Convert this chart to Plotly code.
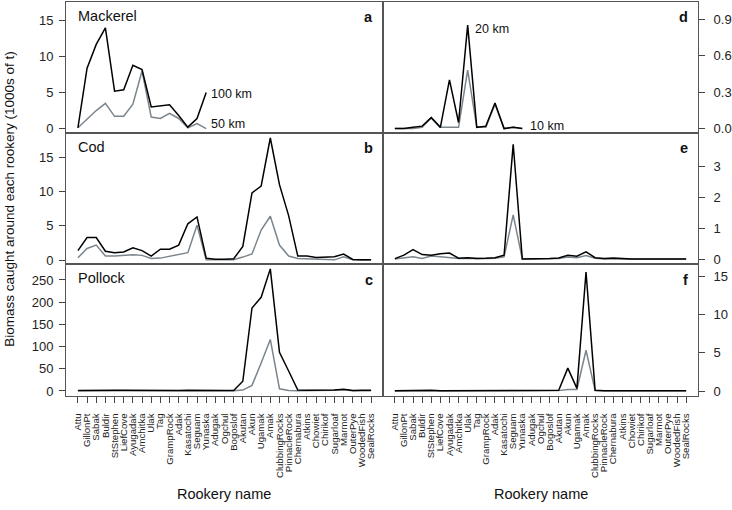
import plotly.graph_objects as go

rookeries = ["Attu", "GillonPt", "Sabak", "Buldir", "StStephen", "LiefCove", "Ayugadak",
             "Amchitka", "Ulak", "Tag", "GrampRock", "Adak", "Kasatochi", "Seguam", "Yunaska",
             "Adugak", "Ogchul", "Bogoslof", "Akutan", "Akun", "Ugamak", "Amak",
             "ClubbingRocks", "PinnacleRock", "Chernabura", "Atkins", "Chowiet", "Chirikof",
             "Sugarloaf", "Marmot", "OuterPye", "WoodedFish", "SealRocks"]
mackerel_rookeries = rookeries[:15]

# Panel a: Mackerel, 100 km and 50 km
mackerel_100 = [0.1, 8.4, 11.7, 14.0, 5.2, 5.4, 8.8, 8.2, 3.0, 3.1, 3.3, 1.8, 0.2, 1.4, 5.0]
mackerel_50 = [0.1, 1.3, 2.5, 3.5, 1.7, 1.7, 3.4, 8.0, 1.6, 1.4, 2.1, 1.4, 0.1, 0.7, 0.0]
# Panel d: Mackerel, 20 km and 10 km
mackerel_20 = [0.0, 0.0, 0.01, 0.02, 0.09, 0.01, 0.40, 0.05, 0.85, 0.01, 0.02, 0.21, 0.0, 0.01, 0.0]
mackerel_10 = [0.0, 0.0, 0.0, 0.01, 0.09, 0.01, 0.01, 0.01, 0.48, 0.01, 0.01, 0.20, 0.0, 0.01, 0.0]

# Panel b: Cod, 100 km and 50 km
cod_100 = [1.4, 3.3, 3.3, 1.3, 1.1, 1.2, 1.8, 1.4, 0.6, 1.6, 1.6, 2.2, 5.3, 6.3, 0.3,
           0.15, 0.15, 0.2, 2.0, 9.8, 10.8, 17.8, 11.0, 6.5, 0.6, 0.6, 0.4, 0.4, 0.5,
           0.9, 0.1, 0.05, 0.05]
cod_50 = [0.35, 1.7, 2.2, 0.6, 0.6, 0.65, 0.8, 0.7, 0.25, 0.3, 0.55, 0.75, 1.1, 5.1, 0.05,
          0.05, 0.05, 0.05, 0.45, 0.9, 4.4, 6.4, 2.2, 0.6, 0.25, 0.2, 0.15, 0.15, 0.05,
          0.5, 0.05, 0.02, 0.02]
# Panel e: Cod, 20 km and 10 km
cod_20 = [0.02, 0.13, 0.31, 0.15, 0.13, 0.18, 0.20, 0.03, 0.05, 0.02, 0.03, 0.05, 0.13,
          3.73, 0.01, 0.01, 0.01, 0.02, 0.04, 0.13, 0.10, 0.24, 0.05, 0.02, 0.04, 0.02,
          0.01, 0.01, 0.01, 0.01, 0.01, 0.01, 0.01]
cod_10 = [0.01, 0.05, 0.08, 0.02, 0.10, 0.08, 0.06, 0.02, 0.03, 0.02, 0.02, 0.03, 0.08,
          1.44, 0.01, 0.01, 0.01, 0.01, 0.02, 0.07, 0.05, 0.12, 0.03, 0.01, 0.01, 0.01,
          0.01, 0.01, 0.01, 0.01, 0.01, 0.01, 0.01]

# Panel c: Pollock, 100 km and 50 km
pollock_100 = [1.0, 1.5, 1.5, 1.5, 1.5, 1.5, 1.2, 1.5, 1.5, 1.0, 1.0, 1.0, 1.5, 1.0, 1.0,
               1.0, 1.0, 1.0, 22, 187, 211, 275, 87, 45, 2.0, 1.5, 1.5, 2.0, 2.5,
               3.7, 1.0, 1.5, 1.5]
pollock_50 = [0.3, 0.5, 0.5, 0.5, 0.5, 0.5, 0.5, 0.5, 0.5, 0.3, 0.3, 0.3, 1.0, 0.3, 0.3,
              0.3, 0.3, 0.3, 2.0, 12.7, 63, 116, 5.0, 1.0, 0.5, 0.5, 0.5, 1.0, 1.5,
              3.0, 0.3, 0.5, 0.5]
# Panel f: Pollock, 20 km and 10 km
pollock_20 = [0.02, 0.05, 0.05, 0.05, 0.1, 0.05, 0.05, 0.05, 0.05, 0.1, 0.05, 0.05, 0.1,
              0.05, 0.05, 0.05, 0.05, 0.05, 0.1, 3.0, 0.35, 15.6, 0.1, 0.05, 0.05, 0.05,
              0.05, 0.05, 0.05, 0.1, 0.05, 0.1, 0.05]
pollock_10 = [0.01, 0.02, 0.02, 0.02, 0.05, 0.02, 0.02, 0.02, 0.02, 0.05, 0.02, 0.02, 0.05,
              0.02, 0.02, 0.02, 0.02, 0.02, 0.05, 0.2, 0.2, 5.35, 0.05, 0.02, 0.02, 0.02,
              0.02, 0.02, 0.02, 0.05, 0.02, 0.05, 0.02]

species = ["Mackerel", "Cod", "Pollock"]
letters_left = ["a", "b", "c"]
letters_right = ["d", "e", "f"]

BLACK = "#000000"
GREY = "#7b858d"
FRAME = "#555555"
FONT = "Liberation Sans, Arial, sans-serif"

W, H = 732, 510
xl = [66 / W, 383 / W]
xr = [383 / W, 698 / W]
row_px = [(2, 134), (134, 266), (266, 398)]
ydom = [[1 - b / H, 1 - t / H] for t, b in row_px]

left_ranges = [[-0.65, 17.6], [-0.62, 18.5], [-10.5, 285]]
right_ranges = [[-0.038, 1.04], [-0.17, 4.09], [-0.61, 16.6]]
left_ticks = [[0, 5, 10, 15], [0, 5, 10, 15], [0, 50, 100, 150, 200, 250]]
right_ticks = [[0.0, 0.3, 0.6, 0.9], [0, 1, 2, 3], [0, 5, 10, 15]]
right_tickfmt = [".1f", "", ""]

left_data = [(mackerel_rookeries, mackerel_100, mackerel_50),
             (rookeries, cod_100, cod_50),
             (rookeries, pollock_100, pollock_50)]
right_data = [(mackerel_rookeries, mackerel_20, mackerel_10),
              (rookeries, cod_20, cod_10),
              (rookeries, pollock_20, pollock_10)]

fig = go.Figure()
layout = {}
annotations = []
xrange_ = [-1.3, 33.3]

for r in range(3):
    for c in range(2):
        n = r * 2 + c + 1
        xa = "x" if n == 1 else f"x{n}"
        ya = "y" if n == 1 else f"y{n}"
        xk = "xaxis" if n == 1 else f"xaxis{n}"
        yk = "yaxis" if n == 1 else f"yaxis{n}"
        cats, big, small = (left_data if c == 0 else right_data)[r]
        fig.add_trace(go.Scatter(x=cats, y=small, mode="lines", xaxis=xa, yaxis=ya,
                                 line=dict(color=GREY, width=1.5), showlegend=False,
                                 hoverinfo="skip"))
        fig.add_trace(go.Scatter(x=cats, y=big, mode="lines", xaxis=xa, yaxis=ya,
                                 line=dict(color=BLACK, width=1.5), showlegend=False,
                                 hoverinfo="skip"))
        bottom = (r == 2)
        layout[xk] = dict(domain=xl if c == 0 else xr, anchor=ya, type="category",
                          categoryorder="array", categoryarray=rookeries,
                          range=xrange_, showgrid=False, zeroline=False,
                          showline=True, mirror=True, linecolor=FRAME, linewidth=1,
                          ticks="outside" if bottom else "", ticklen=6, tickcolor="#444",
                          tickmode="array", tickvals=rookeries, ticktext=rookeries,
                          showticklabels=bottom, tickangle=-90, ticklabelstandoff=7,
                          tickfont=dict(family=FONT, size=9.6, color="#222"))
        ticks_vals = left_ticks[r] if c == 0 else right_ticks[r]
        fmt = "" if c == 0 else right_tickfmt[r]
        ticktext = [format(v, fmt) if fmt else str(v) for v in ticks_vals]
        layout[yk] = dict(domain=ydom[r], anchor=xa, side="left" if c == 0 else "right",
                          range=left_ranges[r] if c == 0 else right_ranges[r],
                          showgrid=False, zeroline=False,
                          showline=True, mirror=True, linecolor=FRAME, linewidth=1,
                          ticks="outside", ticklen=6, tickcolor="#444",
                          tickmode="array", tickvals=ticks_vals, ticktext=ticktext,
                          ticklabelstandoff=3 if c == 0 else 6,
                          tickfont=dict(family=FONT, size=13, color="#222"))
        if c == 0:
            annotations.append(dict(text=species[r], xref=f"{xa} domain", yref=f"{ya} domain",
                                    x=0.03, y=0.97, xanchor="left", yanchor="top",
                                    showarrow=False,
                                    font=dict(family=FONT, size=14.5, color="#111")))
        letter = letters_left[r] if c == 0 else letters_right[r]
        annotations.append(dict(text=f"<b>{letter}</b>", xref=f"{xa} domain", yref=f"{ya} domain",
                                x=0.975, y=0.96, xanchor="right", yanchor="top",
                                showarrow=False,
                                font=dict(family=FONT, size=14.5, color="#111")))

annotations += [
    dict(text="100 km", x=14.35, y=4.85, xref="x", yref="y", xanchor="left",
         yanchor="middle", showarrow=False, font=dict(family=FONT, size=12.5, color="#111")),
    dict(text="50 km", x=14.35, y=0.6, xref="x", yref="y", xanchor="left",
         yanchor="middle", showarrow=False, font=dict(family=FONT, size=12.5, color="#111")),
    dict(text="20 km", x=8.6, y=0.82, xref="x2", yref="y2", xanchor="left",
         yanchor="middle", showarrow=False, font=dict(family=FONT, size=12.5, color="#111")),
    dict(text="10 km", x=14.6, y=0.02, xref="x2", yref="y2", xanchor="left",
         yanchor="middle", showarrow=False, font=dict(family=FONT, size=12.5, color="#111")),
]

annotations += [
    dict(text="Biomass caught around each rookery (1000s of t)", xref="paper", yref="paper",
         x=10 / W, y=1 - 200 / H, textangle=-90, showarrow=False, xanchor="center",
         yanchor="middle", font=dict(family=FONT, size=13.5, color="#111")),
    dict(text="Rookery name", xref="paper", yref="paper", x=(66 + 383) / 2 / W,
         y=1 - 497 / H, showarrow=False, xanchor="center", yanchor="middle",
         font=dict(family=FONT, size=14.5, color="#111")),
    dict(text="Rookery name", xref="paper", yref="paper", x=(383 + 698) / 2 / W,
         y=1 - 497 / H, showarrow=False, xanchor="center", yanchor="middle",
         font=dict(family=FONT, size=14.5, color="#111")),
]

fig.update_layout(width=W, height=H, margin=dict(l=0, r=0, t=0, b=0),
                  paper_bgcolor="white", plot_bgcolor="white",
                  annotations=annotations, **layout)

fig.write_html("out.html", config={"displayModeBar": False},
               post_script="document.body.style.margin='0px';document.body.style.padding='0px';")
